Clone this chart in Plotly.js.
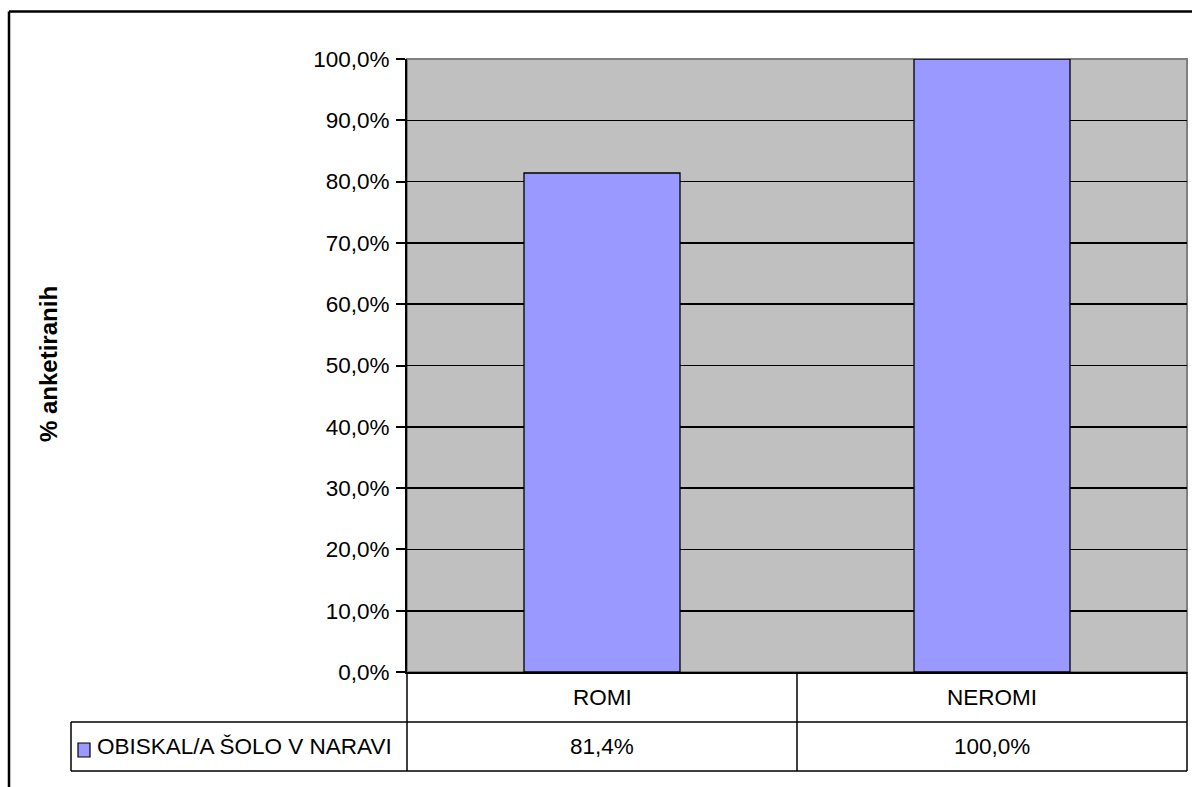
<!DOCTYPE html>
<html>
<head>
<meta charset="utf-8">
<script src="https://cdn.plot.ly/plotly-3.0.1.min.js"></script>
<style>
html,body{margin:0;padding:0;background:#fff;}
#chart{width:1192px;height:787px;}
</style>
</head>
<body>
<div id="chart"></div>
<script>
// ---- data ----
const categories = ["ROMI", "NEROMI"];
const seriesName = "OBISKAL/A ŠOLO V NARAVI";
const values = [81.4, 100.0];
const yAxisTitle = "% anketiranih";

// ---- layout helpers (pixel -> paper) ----
const W = 1192, H = 787;
const M = {l: 407, r: 5, t: 59, b: 115};
const PW = W - M.l - M.r, PH = H - M.t - M.b;
const px = x => (x - M.l) / PW;
const py = y => (H - M.b - y) / PH;

const FONT = "Liberation Sans, Arial, sans-serif";
const FS = 22.5;
const fmt = v => v.toFixed(1).replace('.', ',') + '%';

const trace = {
  type: 'bar',
  x: categories,
  y: values,
  name: seriesName,
  width: 0.4,
  marker: {color: '#9999ff', line: {color: '#000000', width: 1.3}},
  hoverinfo: 'skip'
};

const line = (x0, y0, x1, y1, xref, w) => ({
  type: 'line', xref: xref || 'paper', yref: 'paper',
  x0: x0, y0: y0, x1: x1, y1: y1,
  line: {color: '#000', width: w || 1.5}
});

const shapes = [
  {type: 'rect', xref: 'paper', yref: 'paper', x0: 0, y0: 0, x1: 1, y1: 1,
   line: {color: '#808080', width: 2}, layer: 'below'},
  line(px(9), py(11.5), px(1200), py(11.5), 'paper', 2.5),
  line(px(9), py(11.5), px(9), py(800), 'paper', 2.5),
  line(px(71), py(722), 1, py(722)),
  line(px(71), py(771), 1, py(771)),
  line(px(71), py(722), px(71), py(771)),
  line(0, 0, 0, py(771)),
  line(1, 0, 1, py(771)),
  {type: 'line', xref: 'x', yref: 'paper', x0: 0.5, x1: 0.5, y0: 0, y1: py(771),
   line: {color: '#000', width: 1.5}},
  {type: 'rect', xref: 'paper', yref: 'paper',
   x0: px(78), x1: px(90), y0: py(743), y1: py(757),
   fillcolor: '#9999ff', line: {color: '#000', width: 1.2}}
];

const annotations = [];
categories.forEach((c, i) => {
  annotations.push({xref: 'x', yref: 'paper', x: i, y: py(697), text: c,
    showarrow: false, xanchor: 'center', yanchor: 'middle',
    font: {family: FONT, size: FS, color: '#000'}});
  annotations.push({xref: 'x', yref: 'paper', x: i, y: py(746), text: fmt(values[i]),
    showarrow: false, xanchor: 'center', yanchor: 'middle',
    font: {family: FONT, size: FS, color: '#000'}});
});
annotations.push({xref: 'paper', yref: 'paper', x: px(95), y: py(746), text: seriesName,
  showarrow: false, xanchor: 'left', yanchor: 'middle',
  font: {family: FONT, size: FS, color: '#000'}});
annotations.push({xref: 'paper', yref: 'paper', x: px(48), y: py(364), text: '<b>' + yAxisTitle + '</b>',
  showarrow: false, xanchor: 'center', yanchor: 'middle', textangle: -90,
  font: {family: FONT, size: 24, color: '#000'}});

const layout = {
  width: W, height: H,
  margin: M,
  paper_bgcolor: '#ffffff',
  plot_bgcolor: '#c0c0c0',
  separators: ',.',
  showlegend: false,
  hovermode: false,
  bargap: 0.6,
  font: {family: FONT, size: FS, color: '#000'},
  xaxis: {
    type: 'category', range: [-0.5, 1.5],
    showticklabels: false, ticks: '',
    showgrid: false, zeroline: false,
    showline: true, linecolor: '#000', linewidth: 2,
    fixedrange: true
  },
  yaxis: {
    range: [0, 100], dtick: 10, tick0: 0,
    tickformat: '.1f', ticksuffix: '%',
    ticks: 'outside', ticklen: 9, tickwidth: 2, tickcolor: '#000',
    ticklabelstandoff: 2,
    showgrid: true, gridcolor: '#000', gridwidth: 1.6,
    zeroline: false,
    showline: true, linecolor: '#000', linewidth: 2,
    tickfont: {family: FONT, size: FS, color: '#000'},
    fixedrange: true
  },
  shapes: shapes,
  annotations: annotations
};

Plotly.newPlot('chart', [trace], layout, {displayModeBar: false, staticPlot: true});
</script>
</body>
</html>
